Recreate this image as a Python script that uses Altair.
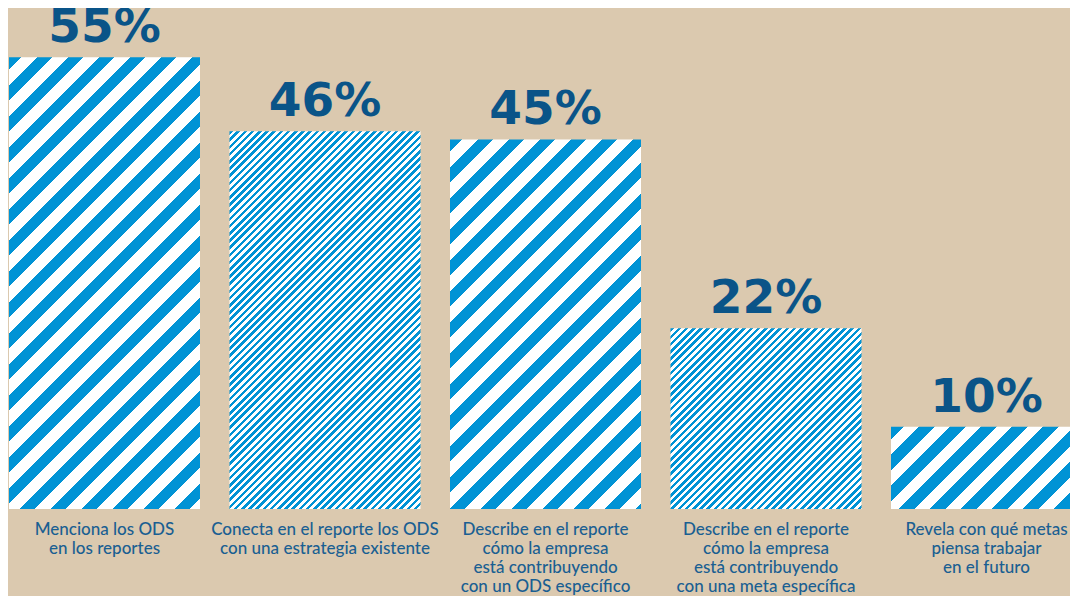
import math
import altair as alt
import pandas as pd

# ---- data ----
keys = ["c1", "c2", "c3", "c4", "c5"]
categories = [
    "Menciona los ODS\nen los reportes",
    "Conecta en el reporte los ODS\ncon una estrategia existente",
    "Describe en el reporte\ncómo la empresa\nestá contribuyendo\ncon un ODS específico",
    "Describe en el reporte\ncómo la empresa\nestá contribuyendo\ncon una meta específica",
    "Revela con qué metas\npiensa trabajar\nen el futuro",
]
values = [55, 46, 45, 22, 10]
value_labels = ["55%", "46%", "45%", "22%", "10%"]

# ---- style ----
stripe_period = [31, 7.2, 31, 7.2, 31]   # horizontal stripe period (px)
stripe_phase = [-3, 0, -3, 0, -3]
BLUE = "#0093d5"
WHITE = "#ffffff"
BG = "#dbc9af"
NAVY = "#0a5488"
TEXT_BLUE = "#1a5f92"

WIDTH, HEIGHT, YMAX = 1062, 501, 61
RANGE = [1, 1074]
PAD_INNER = 0.1338
step = (RANGE[1] - RANGE[0]) / (len(keys) - PAD_INNER)
band = step * (1 - PAD_INNER)

df = pd.DataFrame({"key": keys, "category": categories,
                   "value": values, "label": value_labels})


def stripe_fill(W, H, period, phase, c1, c2):
    L = W + H
    k = L / (W * W + H * H)
    half = period / 2.0
    stops = []
    j = math.floor(-phase / half)
    while phase + j * half < L:
        a = max(phase + j * half, 0.0)
        b = min(phase + (j + 1) * half, L)
        col = c1 if j % 2 == 0 else c2
        if b > a:
            stops.append({"offset": round(a / L, 5), "color": col})
            stops.append({"offset": round(b / L, 5), "color": col})
        j += 1
    return {"gradient": "linear", "x1": 0, "y1": 0,
            "x2": W * k, "y2": H * k, "stops": stops}


x = alt.X("key:N", sort=keys,
          scale=alt.Scale(domain=keys, range=RANGE,
                          paddingInner=PAD_INNER, paddingOuter=0),
          axis=None)
y = alt.Y("value:Q", scale=alt.Scale(domain=[0, YMAX]), axis=None)

base = alt.Chart(df)

layers = []
for i, kname in enumerate(keys):
    H = values[i] * HEIGHT / YMAX
    fill = stripe_fill(band, H, stripe_period[i], stripe_phase[i], BLUE, WHITE)
    layers.append(
        base.transform_filter(alt.datum.key == kname)
        .mark_bar(fill=fill, strokeWidth=0, clip=True)
        .encode(x=x, y=y)
    )

value_text = base.mark_text(
    dy=-15, baseline="alphabetic", align="center",
    font="DejaVu Sans", fontWeight="bold", fontSize=47, color=NAVY
).encode(x=x, y=y, text="label:N")

cat_text = base.mark_text(
    lineBreak="\n", align="center", baseline="alphabetic",
    font="Lato", fontWeight=500, fontSize=17, lineHeight=19, color=TEXT_BLUE
).encode(x=x, y=alt.value(527), text="category:N")

chart = alt.layer(*layers, value_text, cat_text).properties(
    width=WIDTH, height=HEIGHT,
    padding={"left": 0, "top": 0, "right": 0, "bottom": 87},
    autosize=alt.AutoSizeParams(type="none"),
    background=BG,
).configure_view(stroke=None)

chart.save("out.html", embed_options={"renderer": "svg", "actions": False})
